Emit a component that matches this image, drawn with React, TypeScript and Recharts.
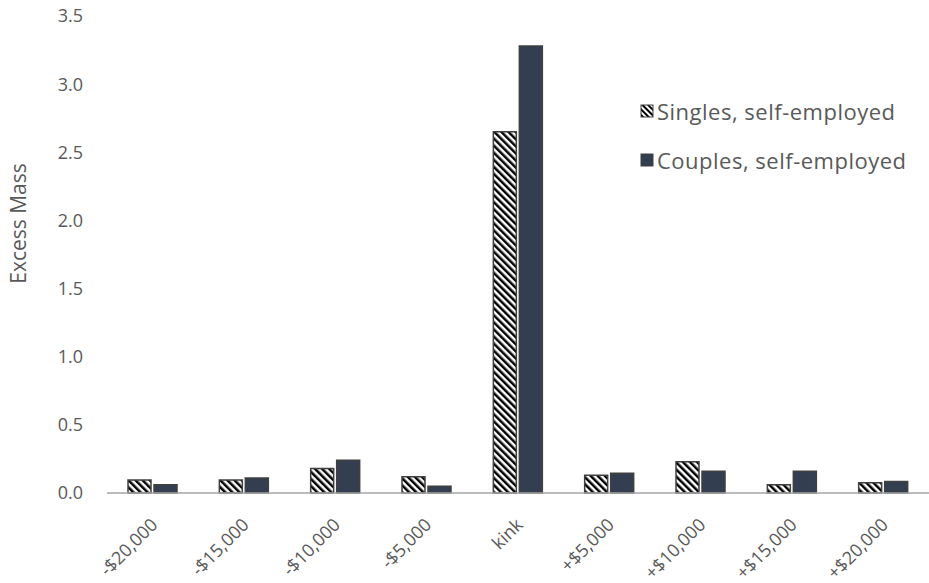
import { BarChart, Bar, XAxis, YAxis } from "recharts";

const categories = [
  "-$20,000",
  "-$15,000",
  "-$10,000",
  "-$5,000",
  "kink",
  "+$5,000",
  "+$10,000",
  "+$15,000",
  "+$20,000",
];
const singlesSelfEmployed = [0.095, 0.095, 0.18, 0.12, 2.65, 0.13, 0.23, 0.06, 0.075];
const couplesSelfEmployed = [0.06, 0.11, 0.24, 0.05, 3.28, 0.145, 0.16, 0.16, 0.085];
const yTicks = [0, 0.5, 1, 1.5, 2, 2.5, 3, 3.5];

const data = categories.map((name, i) => ({
  name,
  singles: singlesSelfEmployed[i],
  couples: couplesSelfEmployed[i],
}));

const FONT = "'Open Sans', Lato, sans-serif";
const TEXT_GRAY = "#595959";
const NAVY = "#333f50";
const OUTLINE = "#404040";

function HatchDefs() {
  return (
    <defs>
      <pattern
        id="hatch"
        width="5"
        height="5"
        patternUnits="userSpaceOnUse"
        patternTransform="rotate(-45)"
      >
        <rect width="5" height="5" fill="#fff" />
        <rect width="2.5" height="5" fill="#000" />
      </pattern>
    </defs>
  );
}

function AngledTick(props: any) {
  const { x, y, payload } = props;
  const ax = x + 6;
  const ay = y + 25;
  return (
    <text
      x={ax}
      y={ay}
      transform={`rotate(-45, ${ax}, ${ay})`}
      textAnchor="end"
      fill={TEXT_GRAY}
      fontSize={18}
      fontFamily={FONT}
    >
      {payload.value}
    </text>
  );
}

// legend drawn as plain html over the chart so it doesn't shrink the plot
function LegendBox() {
  const rows = [
    { label: "Singles, self-employed", hatch: true },
    { label: "Couples, self-employed", hatch: false },
  ];
  return (
    <div
      style={{
        position: "absolute",
        left: 640,
        top: 86,
        fontFamily: FONT,
        fontSize: 22,
        letterSpacing: 0.5,
        color: TEXT_GRAY,
      }}
    >
      {rows.map((r) => (
        <div key={r.label} style={{ display: "flex", alignItems: "center", height: 49 }}>
          <svg width={14} height={14} style={{ marginRight: 3 }}>
            {r.hatch && (
              <defs>
                <pattern
                  id="hatchLegend"
                  width="4"
                  height="4"
                  patternUnits="userSpaceOnUse"
                  patternTransform="rotate(-45)"
                >
                  <rect width="4" height="4" fill="#fff" />
                  <rect width="2" height="4" fill="#000" />
                </pattern>
              </defs>
            )}
            <rect
              x={1}
              y={1}
              width={12}
              height={12}
              fill={r.hatch ? "url(#hatchLegend)" : NAVY}
              stroke={OUTLINE}
              strokeWidth={1}
            />
          </svg>
          <span>{r.label}</span>
        </div>
      ))}
    </div>
  );
}

export default function App() {
  return (
    <div style={{ position: "absolute", left: 0, top: 0, width: 929, height: 583, background: "#fff" }}>
      <BarChart
        width={929}
        height={583}
        data={data}
        margin={{ top: 16, right: 0, left: 0, bottom: 0 }}
        barCategoryGap="23%"
        barGap={3}
      >
        <HatchDefs />
        <XAxis
          dataKey="name"
          axisLine={{ stroke: "#a6a6a6", strokeWidth: 1.5 }}
          tickLine={false}
          interval={0}
          tick={<AngledTick />}
          height={90}
        />
        <YAxis
          domain={[0, 3.5]}
          ticks={yTicks}
          axisLine={false}
          tickLine={false}
          tickSize={0}
          tickMargin={24}
          width={107}
          tickFormatter={(v: number) => v.toFixed(1)}
          tick={{ fill: TEXT_GRAY, fontSize: 18, fontFamily: FONT }}
          label={{
            value: "Excess Mass",
            angle: -90,
            position: "insideLeft",
            dx: 14,
            dy: -31,
            fill: TEXT_GRAY,
            fontSize: 21,
            fontFamily: FONT,
            style: { textAnchor: "middle" },
          }}
        />
        <Bar
          dataKey="singles"
          name="Singles, self-employed"
          fill="url(#hatch)"
          stroke={OUTLINE}
          strokeWidth={1.5}
          isAnimationActive={false}
        />
        <Bar
          dataKey="couples"
          name="Couples, self-employed"
          fill={NAVY}
          stroke={OUTLINE}
          strokeWidth={1.5}
          isAnimationActive={false}
        />
      </BarChart>
      <LegendBox />
    </div>
  );
}
